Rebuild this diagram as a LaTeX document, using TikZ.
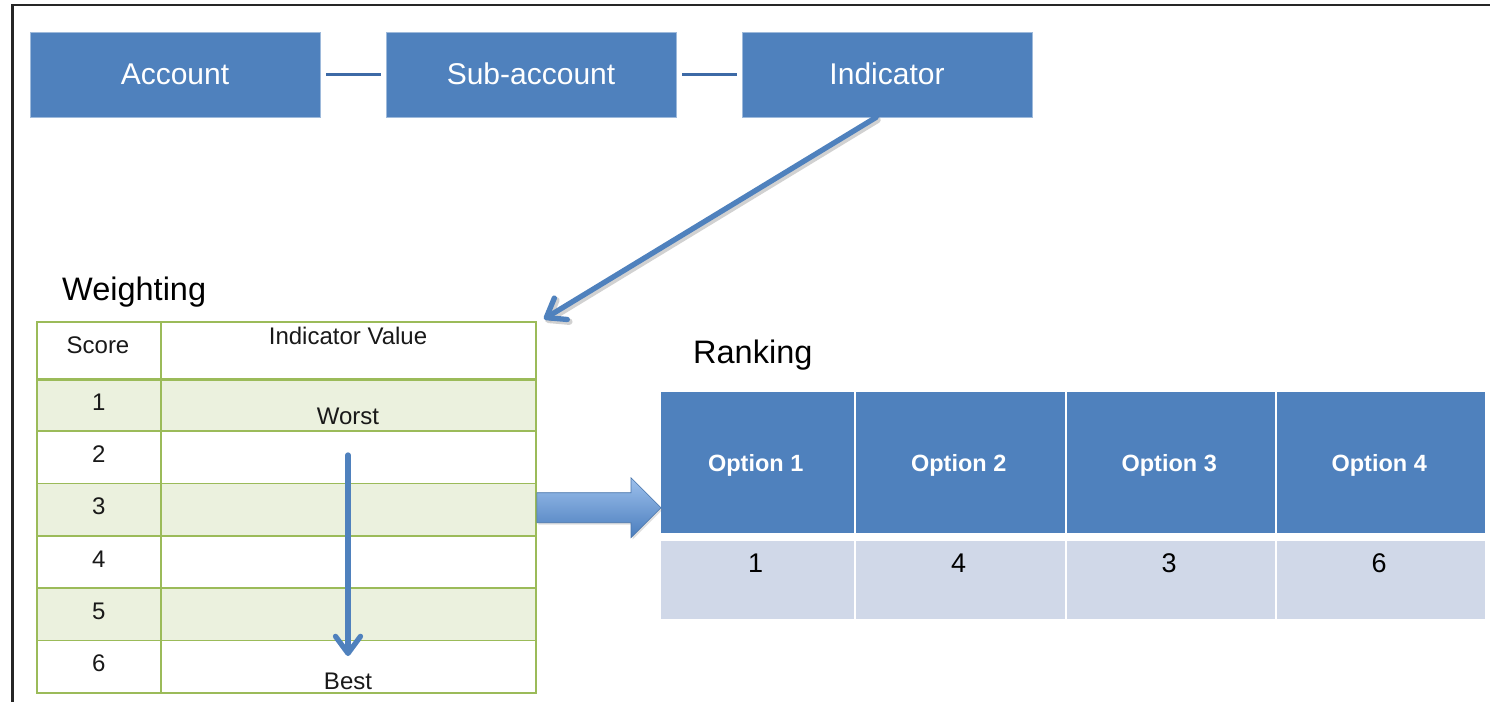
\documentclass[tikz,border=0pt]{standalone}
\usepackage{fontspec}
\setmainfont{Liberation Sans}
\usetikzlibrary{arrows.meta,calc,shadows}

\definecolor{boxblue}{HTML}{4F81BD}
\definecolor{linkblue}{HTML}{3D6AA6}
\definecolor{gridgreen}{HTML}{9BBB59}
\definecolor{rowgreen}{HTML}{EBF1DE}
\definecolor{rankfill}{HTML}{D0D8E8}
\definecolor{arrowlight}{HTML}{9DC0EC}
\definecolor{arrowdark}{HTML}{4A7DBD}

\begin{document}
\begin{tikzpicture}[x=1pt,y=-1pt,
  topbox/.style={fill=boxblue, draw=boxblue!55!white, line width=0.8pt,
    minimum width=290pt, minimum height=85pt, inner sep=0pt, text=white,
    font=\fontsize{30}{36}\selectfont},
  link/.style={draw=linkblue, line width=3.5pt, shorten <=6pt, shorten >=5pt},
  flowarrow/.style={draw=boxblue, line width=5.3pt, line cap=round,
    -{Straight Barb[length=17pt,width=25pt,round]}},
  arrowshade/.style={draw=black, opacity=0.18, line width=6.5pt, line cap=round,
    -{Straight Barb[length=17pt,width=25pt,round]}},
  cell/.style={draw=gridgreen, line width=1.8pt, inner sep=0pt, anchor=north west},
  tabtext/.style={font=\fontsize{24}{28}\selectfont, text=black!90, inner sep=0pt},
  heading/.style={font=\fontsize{32.5}{38}\selectfont, text=black, inner sep=0pt, anchor=west},
  optcell/.style={fill=boxblue, inner sep=0pt, anchor=north west, minimum height=141pt},
  valcell/.style={fill=rankfill, inner sep=0pt, anchor=north west, minimum height=78pt},
  opttext/.style={text=white, inner sep=0pt, font=\bfseries\fontsize{23.5}{28}\selectfont},
  valtext/.style={font=\fontsize{27}{32}\selectfont, text=black, inner sep=0pt},
  blockarrow/.style={draw=boxblue!90!black, line width=0.6pt,
    top color=arrowlight, bottom color=arrowdark,
    drop shadow={opacity=0.25, shadow xshift=1.5pt, shadow yshift=-2pt}}
]
\useasboundingbox (0,0) rectangle (1490,701);
\fill[white] (0,0) rectangle (1490,701);

% page frame
\draw[line width=2.4pt, black!85] (12.5,705) -- (12.5,5) -- (1495,5);

% hierarchy boxes
\node[topbox] (account) at (175,74.5) {\raisebox{1.5pt}{Account}};
\node[topbox] (sub)     at (531,74.5) {\raisebox{1.5pt}{Sub-account}};
\node[topbox] (ind)     at (887,74.5) {\raisebox{1.5pt}{Indicator}};
\draw[link] (account) -- (sub);
\draw[link] (sub) -- (ind);

% weighting table
\node[heading] (weighting) at (62,292) {Weighting};
\node[cell, fill=white, minimum width=124pt, minimum height=57pt] (hs) at (36,321) {};
\node[cell, fill=white, minimum width=375pt, minimum height=57pt] (hv) at (160,321) {};
\foreach \i in {1,...,6} {
  \pgfmathsetmacro{\rowtop}{378+(\i-1)*52.33}
  \pgfmathsetmacro{\shade}{mod(\i,2)==1 ? 100 : 0}
  \node[cell, fill=rowgreen!\shade!white, minimum width=124pt, minimum height=52.33pt]
    (sc\i) at (36,\rowtop) {};
  \node[cell, fill=rowgreen!\shade!white, minimum width=375pt, minimum height=52.33pt]
    (iv\i) at (160,\rowtop) {};
  \node[tabtext] (n\i) at ($(sc\i.north)+(0,24)$) {\i};
}
\draw[gridgreen, line width=3.2pt] (hs.south west) -- (hv.south east);
\node[tabtext] (score) at (98,345) {Score};
\node[tabtext] (ivalue) at (348,336) {Indicator Value};
\node[tabtext] (worst) at (348,416) {Worst};
\node[tabtext] (best) at (348,681) {Best};
\draw[flowarrow] ($(worst.center)+(0,39)$) -- ($(best.center)+(0,-25)$);

% indicator feeds the weighting table
\coordinate (wtip) at (544,319);
\draw[arrowshade, transform canvas={shift={(1.5pt,-2.5pt)}}] ($(ind.south)+(-11,0)$) -- (wtip);
\draw[flowarrow] ($(ind.south)+(-11,0)$) -- (wtip);

% ranking table
\node[heading] (ranking) at (693,355) {Ranking};
\node[optcell, minimum width=193pt] (rh1) at (661,392) {};
\node[optcell, minimum width=209pt] (rh2) at (856,392) {};
\node[optcell, minimum width=208pt] (rh3) at (1067,392) {};
\node[optcell, minimum width=208pt] (rh4) at (1277,392) {};
\node[valcell, minimum width=193pt] (rv1) at (661,541) {};
\node[valcell, minimum width=209pt] (rv2) at (856,541) {};
\node[valcell, minimum width=208pt] (rv3) at (1067,541) {};
\node[valcell, minimum width=208pt] (rv4) at (1277,541) {};
\foreach \k/\v in {1/1,2/4,3/3,4/6} {
  \node[opttext] (ot\k) at ($(rh\k.center)+(-2,2.5)$) {Option \k};
  \node[valtext] (vt\k) at ($(rv\k.north)+(-2,22)$) {\v};
}

% block arrow from the weighting table to the ranking
\coordinate (bs) at ($(iv3.east)+(0,-2)$);
\coordinate (bt) at (rh1.west |- bs);
\path[blockarrow] ($(bs)+(0,-15)$) -- ($(bt)+(-30,-15)$) -- ($(bt)+(-30,-30)$)
  -- (bt) -- ($(bt)+(-30,30)$) -- ($(bt)+(-30,15)$) -- ($(bs)+(0,15)$) -- cycle;
\end{tikzpicture}
\end{document}
